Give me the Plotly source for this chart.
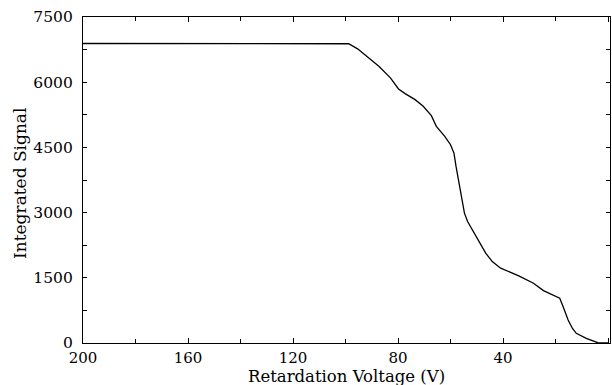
import plotly.graph_objects as go

voltage = [200, 150, 98.8, 95.4, 91.0, 87.3, 82.9, 79.8, 77.3, 73.5, 70.4, 67.3, 65.4, 62.2,
           60.0, 58.7, 57.9, 56.8, 55.7, 54.7, 53.5, 50.9, 46.6, 44.1, 40.9, 34.0, 28.4,
           24.6, 20.9, 18.4, 17.1, 15.2, 13.6, 12.1, 8.3, 3.9, 0]
signal = [6890, 6890, 6885, 6767, 6560, 6367, 6099, 5845, 5737, 5599, 5445, 5230, 4984, 4753,
          4562, 4371, 4062, 3680, 3295, 2988, 2795, 2528, 2067, 1873, 1721, 1544, 1376,
          1205, 1106, 1030, 836, 530, 339, 223, 108, 7, 0]

font = "DejaVu Serif"
fig = go.Figure(go.Scatter(x=voltage, y=signal, mode="lines",
                           line=dict(color="black", width=1.3)))

fig.update_layout(
    width=612, height=385,
    margin=dict(l=83, r=2, t=17, b=42),
    plot_bgcolor="white", paper_bgcolor="white",
    showlegend=False,
    font=dict(family=font, size=15, color="black"),
    annotations=[
        dict(text="Retardation Voltage (V)", xref="paper", yref="paper", x=0.5, y=-0.104,
             xanchor="center", yanchor="middle", showarrow=False, font=dict(size=16.5)),
        dict(text="Integrated Signal", xref="paper", yref="paper", x=-0.1195, y=0.488,
             xanchor="center", yanchor="middle", showarrow=False, textangle=-90,
             font=dict(size=17)),
    ],
)
fig.update_xaxes(
    range=[200, -0.75], tickvals=[200, 160, 120, 80, 40, 0], ticks="inside", ticklen=5,
    minor=dict(dtick=20, ticks="inside", ticklen=4, tickcolor="black"),
    showline=True, linecolor="black", linewidth=1.3, mirror="ticks", showgrid=False,
    zeroline=False, tickcolor="black", ticklabelstandoff=1,
    tickfont=dict(size=15),
)
fig.update_yaxes(
    range=[0, 7500], tickvals=[0, 1500, 3000, 4500, 6000, 7500], ticks="inside", ticklen=4,
    minor=dict(dtick=750, ticks="inside", ticklen=4, tickcolor="black"),
    showline=True, linecolor="black", linewidth=1.3, mirror="ticks", showgrid=False,
    zeroline=False, tickcolor="black", ticklabelstandoff=6,
    tickfont=dict(size=15.5),
)
fig.write_html("out.html")
